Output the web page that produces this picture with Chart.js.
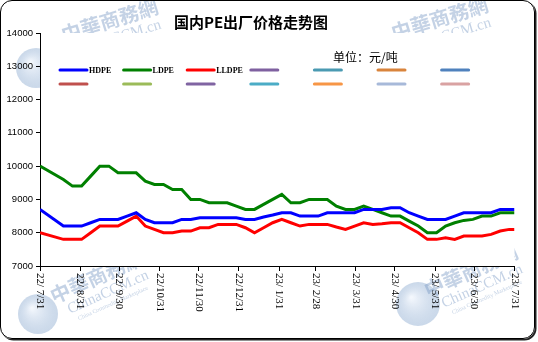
<!DOCTYPE html>
<html>
<head>
<meta charset="utf-8">
<script src="https://cdn.jsdelivr.net/npm/chart.js@4.4.1/dist/chart.umd.min.js"></script>
<style>
  body { margin: 0; background: #fff; }
  #wrap { position: relative; width: 538px; height: 342px; }
  #frame {
    position: absolute; left: 0; top: 0; width: 535px; height: 339px;
    box-sizing: border-box; border: 1.5px solid #000; border-radius: 12px;
    box-shadow: 1.5px 1.5px 0 #222; pointer-events: none;
  }
</style>
</head>
<body>
<div id="wrap">
  <canvas id="peChart" width="538" height="342"></canvas>
  <div id="frame"></div>
</div>
<script>
// Sample dates (weekly quotes) and ex-factory prices, yuan/ton
const dates = [
  '2022-07-31', '2022-08-18', '2022-08-25', '2022-09-01', '2022-09-08', '2022-09-15', '2022-09-22', '2022-09-29',
  '2022-10-06', '2022-10-13', '2022-10-20', '2022-10-27', '2022-11-03', '2022-11-10', '2022-11-17', '2022-11-24',
  '2022-12-01', '2022-12-08', '2022-12-15', '2022-12-22', '2022-12-29', '2023-01-05', '2023-01-12', '2023-01-19',
  '2023-01-26', '2023-02-02', '2023-02-09', '2023-02-16', '2023-02-23', '2023-03-02', '2023-03-09', '2023-03-16',
  '2023-03-23', '2023-03-30', '2023-04-06', '2023-04-13', '2023-04-20', '2023-04-27', '2023-05-04', '2023-05-11',
  '2023-05-18', '2023-05-25', '2023-06-01', '2023-06-08', '2023-06-15', '2023-06-22', '2023-06-29', '2023-07-06',
  '2023-07-13', '2023-07-20', '2023-07-27', '2023-07-31'
];

const hdpe = [
  8700, 8200, 8200, 8200, 8300, 8400, 8400, 8400,
  8500, 8600, 8400, 8300, 8300, 8300, 8400, 8400,
  8450, 8450, 8450, 8450, 8450, 8400, 8400, 8470,
  8530, 8600, 8600, 8500, 8500, 8500, 8600, 8600,
  8600, 8600, 8700, 8700, 8700, 8750, 8750, 8600,
  8500, 8400, 8400, 8400, 8500, 8600, 8600, 8600,
  8600, 8700, 8700, 8700
];

const ldpe = [
  10000, 9600, 9400, 9400, 9700, 10000, 10000, 9800,
  9800, 9800, 9550, 9450, 9450, 9300, 9300, 9000,
  9000, 8900, 8900, 8900, 8800, 8700, 8700, 8850,
  9000, 9150, 8900, 8900, 9000, 9000, 9000, 8800,
  8700, 8700, 8800, 8700, 8600, 8500, 8500, 8350,
  8200, 8000, 8000, 8200, 8300, 8370, 8400, 8500,
  8500, 8600, 8600, 8600
];

const lldpe = [
  8000, 7800, 7800, 7800, 8000, 8200, 8200, 8200,
  8350, 8500, 8200, 8100, 8000, 8000, 8050, 8050,
  8150, 8150, 8250, 8250, 8250, 8150, 8000, 8150,
  8300, 8400, 8300, 8200, 8250, 8250, 8250, 8170,
  8100, 8200, 8300, 8250, 8270, 8300, 8300, 8150,
  8000, 7800, 7800, 7850, 7800, 7900, 7900, 7900,
  7950, 8050, 8100, 8100
];

// Month-end axis marks
const tickDates = [
  '2022-07-31', '2022-08-31', '2022-09-30', '2022-10-31', '2022-11-30', '2022-12-31', '2023-01-31',
  '2023-02-28', '2023-03-31', '2023-04-30', '2023-05-31', '2023-06-30', '2023-07-31'
];
const tickLabels = [
  '22/ 7/31', '22/ 8/31', '22/ 9/30', '22/10/31', '22/11/30', '22/12/31', '23/ 1/31',
  '23/ 2/28', '23/ 3/31', '23/ 4/30', '23/ 5/31', '23/ 6/30', '23/ 7/31'
];
const yTicks = [7000, 8000, 9000, 10000, 11000, 12000, 13000, 14000];

// Unnamed series still listed in the legend
const spareColors = [
  '#7f60a0', '#4a9ab2', '#d9843c', '#4f81bd',
  '#c0504d', '#9bbb59', '#8064a2', '#4bacc6', '#f79646', '#a7b9d9', '#d9a2a2'
];

const startDay = Date.UTC(2022, 6, 31);
function dayOf(s) {
  const [y, m, d] = s.split('-').map(Number);
  return Math.round((Date.UTC(y, m - 1, d) - startDay) / 86400000);
}
const days = dates.map(dayOf);
const tickDays = tickDates.map(dayOf);

function series(label, values, color) {
  return {
    label: label,
    data: values.map((v, i) => ({ x: days[i], y: v })),
    borderColor: color,
    borderWidth: 3,
    pointRadius: 0,
    tension: 0,
    fill: false
  };
}

const datasets = [
  series('HDPE', hdpe, '#0000ff'),
  series('LDPE', ldpe, '#008000'),
  series('LLDPE', lldpe, '#ff0000')
].concat(spareColors.map(c => ({ label: '', data: [], borderColor: c, borderWidth: 3, pointRadius: 0 })));

// Faint site stamps behind the plot: globe and name
function globe(ctx, x, y, r) {
  const g = ctx.createRadialGradient(x - r * 0.3, y - r * 0.3, 1, x, y, r);
  g.addColorStop(0, 'rgba(240,245,252,0.8)');
  g.addColorStop(1, 'rgba(150,178,212,0.5)');
  ctx.fillStyle = g;
  ctx.beginPath();
  ctx.arc(x, y, r, 0, Math.PI * 2);
  ctx.fill();
}

function siteName(ctx, cx, cy, angle) {
  ctx.save();
  ctx.translate(cx, cy);
  ctx.rotate(angle);
  ctx.fillStyle = 'rgba(125,155,198,0.45)';
  ctx.textAlign = 'center';
  ctx.textBaseline = 'middle';
  ctx.font = 'bold 20px "Noto Sans CJK TC"';
  ctx.fillText('中華商務網', 0, -8);
  ctx.font = '15px "Liberation Serif"';
  ctx.fillText('ChinaCCM.cn', 4, 11);
  ctx.font = '6px "Liberation Serif"';
  ctx.fillText('China Commodity Marketplace', 4, 23);
  ctx.restore();
}

const watermark = {
  id: 'watermark',
  beforeDraw(chart) {
    const ctx = chart.ctx;
    const a = chart.chartArea;
    ctx.save();
    globe(ctx, 38, 314, 20);
    siteName(ctx, 100, 284, -0.42);
    globe(ctx, 418, 304, 22);
    siteName(ctx, 474, 278, -0.42);
    globe(ctx, 36, 68, 20);
    siteName(ctx, 112, 28, -0.3);
    siteName(ctx, 442, 26, -0.3);
    ctx.fillStyle = '#fff';
    ctx.fillRect(a.left, a.top, a.right - a.left, a.bottom - a.top);
    ctx.restore();
  }
};

// Title, unit note, grid-style legend and vertical date labels
const decorations = {
  id: 'decorations',
  afterDraw(chart) {
    const ctx = chart.ctx;
    const xs = chart.scales.x;
    ctx.save();
    ctx.fillStyle = '#fff';
    ctx.fillRect(176, 12, 150, 20);
    ctx.fillStyle = '#000';
    ctx.textAlign = 'center';
    ctx.textBaseline = 'middle';
    ctx.font = 'bold 15px "Noto Sans CJK SC"';
    ctx.fillText('国内PE出厂价格走势图', 251, 22);

    ctx.textAlign = 'left';
    ctx.font = '12px "Noto Sans CJK SC"';
    ctx.fillText('单位：元/吨', 333, 57);

    chart.data.datasets.forEach((ds, i) => {
      const col = i % 7;
      const row = Math.floor(i / 7);
      const x = 60 + col * 63.6;
      const y = 70 + row * 14;
      ctx.strokeStyle = ds.borderColor;
      ctx.lineWidth = 3;
      ctx.lineCap = 'round';
      ctx.beginPath();
      ctx.moveTo(x, y);
      ctx.lineTo(x + 27, y);
      ctx.stroke();
      if (ds.label) {
        ctx.font = 'bold 8px "Liberation Serif"';
        ctx.fillStyle = '#000';
        ctx.fillText(ds.label, x + 29, y + 0.5);
      }
    });

    ctx.fillStyle = '#000';
    ctx.font = '11px "Liberation Serif"';
    ctx.textBaseline = 'middle';
    tickDays.forEach((d, i) => {
      const px = xs.getPixelForValue(d);
      ctx.save();
      ctx.translate(px, xs.top + 7);
      ctx.rotate(Math.PI / 2);
      ctx.fillText(tickLabels[i], 0, 0);
      ctx.restore();
    });
    ctx.restore();
  }
};

new Chart(document.getElementById('peChart'), {
  type: 'line',
  data: { datasets: datasets },
  options: {
    responsive: false,
    animation: false,
    events: [],
    layout: { padding: { left: 0, right: 23.5, top: 33, bottom: 0 } },
    plugins: { legend: { display: false }, tooltip: { enabled: false } },
    scales: {
      x: {
        type: 'linear',
        min: 0,
        max: tickDays[tickDays.length - 1],
        afterBuildTicks: s => { s.ticks = tickDays.map(v => ({ value: v })); },
        afterFit: s => { s.height = 76; },
        ticks: { display: false },
        grid: { drawOnChartArea: false, color: '#000', tickLength: 5 },
        border: { color: '#000', width: 1 }
      },
      y: {
        min: yTicks[0],
        max: yTicks[yTicks.length - 1],
        afterBuildTicks: s => { s.ticks = yTicks.map(v => ({ value: v })); },
        afterFit: s => { s.width = 40; },
        ticks: {
          color: '#000',
          padding: 3,
          font: { family: 'Liberation Sans', size: 9.5 },
          callback: v => String(v)
        },
        grid: { drawOnChartArea: false, color: '#000', tickLength: 4 },
        border: { color: '#000', width: 1 }
      }
    }
  },
  plugins: [watermark, decorations]
});
</script>
</body>
</html>
